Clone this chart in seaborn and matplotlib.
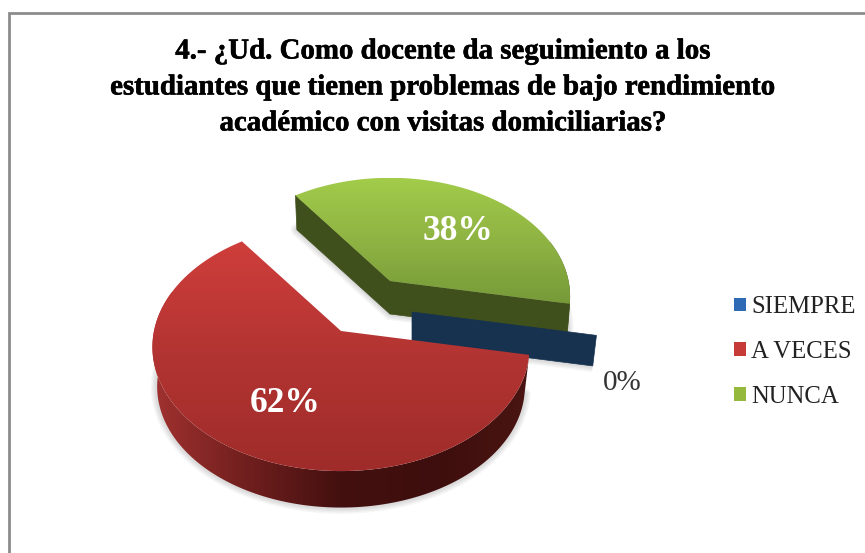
import numpy as np
import matplotlib
matplotlib.use("Agg")
import matplotlib.pyplot as plt
import matplotlib.patheffects as pe
from matplotlib.patches import Polygon, Patch
import seaborn as sns

# data
categories = ["SIEMPRE", "A VECES", "NUNCA"]
shares = [0, 62, 38]
pct_labels = ["0%", "62%", "38%"]
title_lines = [
    "4.- ¿Ud. Como docente da seguimiento a los",
    "estudiantes que tienen problemas de bajo rendimiento",
    "académico con visitas domiciliarias?",
]

sns.set_theme(style="white")
plt.rcParams["font.family"] = ["Liberation Serif", "DejaVu Serif"]

START = -11.0      # where the first slice begins, degrees
PERSP = 0.129      # far side of the pie is squashed by this
N = 240

# placement of each exploded slice: apex x, apex y, size, depth, lower ring scale
layout = {
    "SIEMPRE": (412, 312, 0.98, 31, 0.98),
    "A VECES": (341, 331, 1.0, 40, 0.975),
    "NUNCA": (390, 281, 0.955, 33, 0.985),
}
top_cols = {
    "A VECES": ["#cf3e3b", "#b23432", "#9f2c2a"],
    "NUNCA": ["#a2cc4a", "#8fb343", "#769a38"],
}
wall_cols = {
    "SIEMPRE": ["#17324f", "#17324f"],
    "A VECES": ["#a13230", "#701f1e", "#43100f", "#3d0e0d", "#4a1512"],
    "NUNCA": ["#40501c", "#40501c"],
}
legend_cols = ["#2f6bb5", "#c63a37", "#95b93c"]


def ring(name, deg, lower=False):
    cx, cy, size, depth, sq = layout[name]
    t = np.radians(deg)
    d = 1 + PERSP * np.sin(t)
    x = 187 * size * np.cos(t) / d
    y = -122 * size * np.sin(t) / d
    if lower:
        return cx + sq * x, cy + depth + sq * y
    return cx + x, cy + y


def apex(name, lower=False):
    cx, cy, size, depth, sq = layout[name]
    return (cx, cy + depth) if lower else (cx, cy)


def draw_face(ax, name, deg, col, z):
    x0, y0 = apex(name)
    x1, y1 = ring(name, deg)
    x2, y2 = ring(name, deg, True)
    x3, y3 = apex(name, True)
    ax.add_patch(Polygon([(x0, y0), (x1, y1), (x2, y2), (x3, y3)], closed=True,
                         fc=col, ec=col, lw=0.5, zorder=z))


def draw_shadow(ax, pts, z):
    for lw in [9, 7, 5, 3]:
        ax.add_patch(Polygon(pts, closed=True, fc="none", ec="black", lw=lw,
                             alpha=0.035, zorder=z, joinstyle="round"))


def gradient_fill(ax, pts, colors, z, horizontal=False):
    poly = Polygon(pts, closed=True, fc="none", ec="none", zorder=z)
    ax.add_patch(poly)
    xs, ys = zip(*pts)
    grad = np.linspace(0, 1, 256).reshape(1, -1) if horizontal else np.linspace(0, 1, 256).reshape(-1, 1)
    im = ax.imshow(grad, extent=(min(xs), max(xs), max(ys), min(ys)), aspect="auto",
                   cmap=sns.blend_palette(colors, 256, as_cmap=True),
                   zorder=z + 0.05, origin="upper", interpolation="bilinear")
    im.set_clip_path(poly)


def draw_slice(ax, name, a0, a1, z, faces=True):
    # a0 -> a1 runs clockwise, so a1 < a0
    degs = np.linspace(a0, a1, N)
    tx, ty = ring(name, degs)
    bx, by = ring(name, degs, True)
    ax0, ay0 = apex(name)

    draw_shadow(ax, list(zip(bx, by)) + [apex(name, True)], z)

    # rim wall, a bit past the part facing the viewer so the lower ring stays whole
    front = np.sin(np.radians(degs)) <= 0.35
    wall = list(zip(tx[front], ty[front])) + list(zip(bx[front][::-1], by[front][::-1]))
    gradient_fill(ax, wall, wall_cols[name], z + 0.1, horizontal=True)

    if faces:
        draw_face(ax, name, a0, wall_cols[name][0], z + 0.2)
        draw_face(ax, name, a1, wall_cols[name][0], z + 0.2)

    gradient_fill(ax, list(zip(tx, ty)) + [(ax0, ay0)], top_cols[name], z + 0.3)


fig = plt.figure(figsize=(8.65, 5.53), dpi=100, facecolor="white")
ax = fig.add_axes([0, 0, 1, 1])

# slice angles come from the shares, clockwise from START
spans = [s / sum(shares) * 360 for s in shares]
edges = START - np.cumsum([0] + spans)

# green behind, then the flat 0% slice, red in front
draw_slice(ax, categories[2], edges[2], edges[3], 2)
draw_shadow(ax, [ring(categories[0], edges[0], True), apex(categories[0], True)], 3)
draw_face(ax, categories[0], edges[0], wall_cols[categories[0]][0], 3.2)
draw_slice(ax, categories[1], edges[1], edges[2], 4, faces=False)

ax.set_xlim(0, 865)
ax.set_ylim(553, 0)
ax.axis("off")

# chart frame, only top and left fall inside the picture
ax.plot([8.5, 8.5, 865], [553, 12.5, 12.5], color="#8c8c8c", lw=2, zorder=1,
        solid_joinstyle="miter")

for line, y in zip(title_lines, [51, 87, 123]):
    ax.text(443, y, line, ha="center", va="center", fontsize=20.8, fontweight="bold",
            color="black", path_effects=[pe.withStroke(linewidth=0.4, foreground="black")])

ax.text(285, 403, pct_labels[1], ha="center", va="center", fontsize=25.5,
        fontweight="bold", color="white", zorder=9)
ax.text(458, 231, pct_labels[2], ha="center", va="center", fontsize=25.5,
        fontweight="bold", color="white", zorder=9)
ax.text(622, 383, pct_labels[0], ha="center", va="center", fontsize=21,
        color="#333333", zorder=9)

handles = [Patch(fc=c, ec="none", label=n) for c, n in zip(legend_cols, categories)]
ax.legend(handles=handles, loc="center left", bbox_to_anchor=(734 / 865, 1 - 352 / 553),
          frameon=False, fontsize=17.8, handlelength=0.49, handleheight=0.49,
          handletextpad=0.2, labelspacing=0.92, borderpad=0, borderaxespad=0,
          labelcolor="#222222")

fig.savefig("out.png", dpi=100, facecolor="white")
